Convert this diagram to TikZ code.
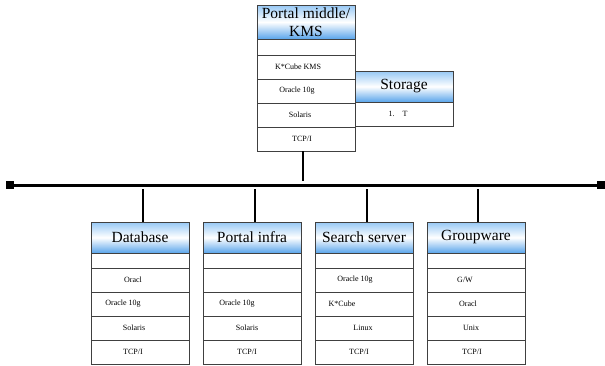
\documentclass[tikz,border=0pt]{standalone}
\usepackage{fontspec}
\setmainfont{Liberation Serif}
\definecolor{hdrtop}{RGB}{150,200,245}
\definecolor{hdrbot}{RGB}{90,165,235}
\begin{document}
\begin{tikzpicture}[x=1pt,y=-1pt,
	hdr/.style={draw=black!75, line width=0.9pt, top color=hdrtop, bottom color=hdrbot, middle color=white,
		minimum width=98pt, inner sep=0pt, outer sep=0pt, anchor=north west, font=\fontsize{15.5}{18}\selectfont},
	cell/.style={draw=black!75, line width=0.8pt, fill=white, minimum width=98pt, minimum height=24pt,
		inner sep=0pt, outer sep=0pt, anchor=north west},
	txt/.style={font=\fontsize{8}{9}\selectfont, inner sep=0pt},
	drop/.style={line width=2pt},
	bus/.style={line width=3pt},
	term/.style={fill=black, minimum size=8pt, inner sep=0pt}]
			\useasboundingbox (0,0) rectangle (605,365);

			% portal middle / KMS
			\node[hdr, minimum height=34pt, align=center] (pm) at (257,5) {Portal middle/\\KMS};
			\node[cell, minimum height=16pt] (pm0) at (257,39) {};
			\foreach \t/\y/\dx [count=\i] in {K*Cube KMS/55/-8, Oracle 10g/79/-9, Solaris/103/-6, {TCP/I}/127/-4}{
				\node[cell] (pm\i) at (257,\y) {};
				\node[txt] at ([xshift=\dx pt]pm\i.center) {\t};
			}

			% storage
			\node[hdr, minimum height=31pt] (st) at (355,71) {Storage};
			\node[cell] (st1) at (355,102) {};
			\node[txt] at ([xshift=-6pt]st1.center) {1.\quad T};

			% servers
			\foreach \x/\nm/\hd in {91/db/Database, 203/pi/Portal infra, 315/ss/Search server, 427/gw/Groupware}{
				\node[hdr, minimum height=31pt] (\nm) at (\x,222) {\hd};
				\node[cell, minimum height=15pt] (\nm0) at (\x,253) {};
				\foreach \y [count=\i] in {268,292,316,340}
					\node[cell] (\nm\i) at (\x,\y) {};
			}
			\foreach \t/\dx [count=\i] in {Oracl/-7, Oracle 10g/-17, Solaris/-6, {TCP/I}/-7}{
				\node[txt] at ([xshift=\dx pt]db\i.center) {\t};
			}
			\foreach \t/\dx [count=\i from 2] in {Oracle 10g/-15, Solaris/-5, {TCP/I}/-5}{
				\node[txt] at ([xshift=\dx pt]pi\i.center) {\t};
			}
			\foreach \t/\dx [count=\i] in {Oracle 10g/-9, K*Cube/-22, Linux/-1, {TCP/I}/-5}{
				\node[txt] at ([xshift=\dx pt]ss\i.center) {\t};
			}
			\foreach \t/\dx [count=\i] in {{G/W}/-11, Oracl/-8, Unix/-5, {TCP/I}/-4}{
				\node[txt] at ([xshift=\dx pt]gw\i.center) {\t};
			}

			% backbone
			\node[term] (lt) at (10,185) {};
			\node[term] (rt) at (601,185) {};
			\draw[bus] (lt) -- (rt);
			\coordinate (jpm) at (303,185);
			\draw[drop, shorten >=4pt] (jpm |- pm4.south) -- (jpm);
			\foreach \x/\nm in {143/db, 255/pi, 367/ss, 478/gw}{
				\coordinate (j\nm) at (\x,185);
				\draw[drop, shorten <=4pt] (j\nm) -- (j\nm |- \nm.north);
			}

		\end{tikzpicture}
\end{document}
